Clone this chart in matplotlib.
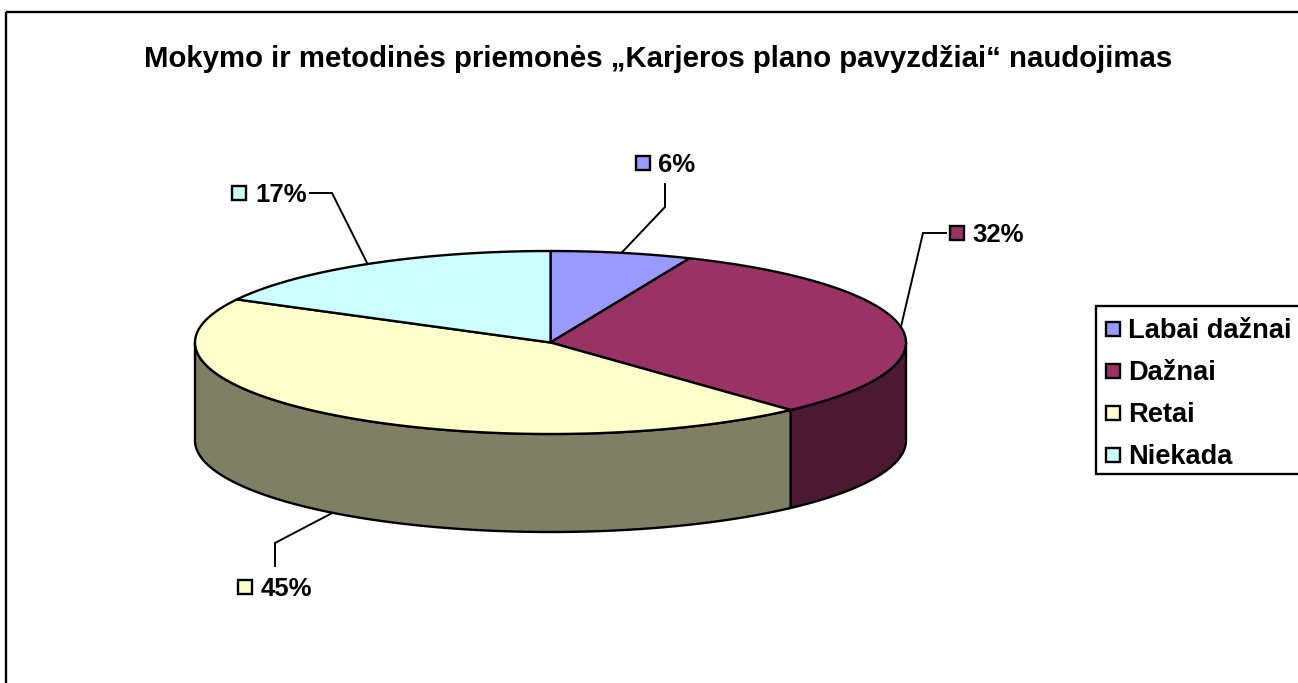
import numpy as np
import matplotlib
matplotlib.use("Agg")
import matplotlib.pyplot as plt
from matplotlib.patches import Rectangle

categories = ["Labai dažnai", "Dažnai", "Retai", "Niekada"]
values = [6.4, 31.8, 44.6, 17.2]
colors = ["#9999FF", "#993366", "#FFFFCC", "#CCFFFF"]
side_colors = ["#4C4C7F", "#4C1933", "#7F7F66", "#667F7F"]
title = "Mokymo ir metodinės priemonės „Karjeros plano pavyzdžiai“ naudojimas"

plt.rcParams["font.family"] = ["Liberation Sans", "DejaVu Sans"]
plt.rcParams["font.weight"] = "bold"

W, H = 1298, 683
fig = plt.figure(figsize=(W / 100, H / 100), dpi=100)
ax = fig.add_axes([0, 0, 1, 1])
ax.set_xlim(0, W)
ax.set_ylim(H, 0)
ax.axis("off")

CX, CY, RX, RY, DEPTH = 550.5, 342.5, 355.5, 91.5, 98
LW = 1.7


def pt(theta, drop=0.0):
    return CX + RX * np.sin(theta), CY - RY * np.cos(theta) + drop


frac = np.cumsum([0] + values) / sum(values)
angles = frac * 2 * np.pi

# front wall
for a0, a1, c in zip(angles[:-1], angles[1:], side_colors):
    lo, hi = max(a0, np.pi / 2), min(a1, 3 * np.pi / 2)
    if hi <= lo:
        continue
    th = np.linspace(lo, hi, 120)
    xt, yt = pt(th)
    xb, yb = pt(th[::-1], DEPTH)
    ax.fill(np.r_[xt, xb], np.r_[yt, yb], fc=c, ec="black", lw=LW,
            joinstyle="round", zorder=2)

# top face
for a0, a1, c in zip(angles[:-1], angles[1:], colors):
    th = np.linspace(a0, a1, 200)
    xt, yt = pt(th)
    ax.fill(np.r_[CX, xt], np.r_[CY, yt], fc=c, ec="black", lw=LW,
            joinstyle="round", zorder=3)

# data labels with leader lines
label_layout = [
    dict(box=(636, 156), text_x=658, elbow=(665, 207), end=(665, 184)),
    dict(box=(950, 226), text_x=972, elbow=(923, 233), end=(946, 233)),
    dict(box=(238, 580), text_x=261, elbow=(275, 543), end=(275, 566)),
    dict(box=(232, 186), text_x=255, elbow=(332, 193), end=(310, 193)),
]
SW = 14
for i, (v, c, lay) in enumerate(zip(values, colors, label_layout)):
    mid = (angles[i] + angles[i + 1]) / 2
    on_wall = np.pi / 2 < mid < 3 * np.pi / 2 and i == 2
    ax_, ay_ = pt(mid, DEPTH if on_wall else 0)
    ax.plot([ax_, lay["elbow"][0], lay["end"][0]], [ay_, lay["elbow"][1], lay["end"][1]],
            color="black", lw=1.4, zorder=4, solid_joinstyle="miter")
    bx, by = lay["box"]
    ax.add_patch(Rectangle((bx, by), SW, SW, fc=c, ec="black", lw=LW, zorder=5))
    ax.text(lay["text_x"], by + SW + 2.5, f"{v:.0f}%", fontsize=18.5, fontweight="bold",
            va="baseline", ha="left", color="black", zorder=5)

# chart frame (bleeds off right and bottom edges)
ax.add_patch(Rectangle((6, 12), W + 20, H + 20, fc="none", ec="black", lw=1.7, zorder=1))

ax.text(658.5, 67, title, fontsize=21.2, fontweight="bold", ha="center", va="baseline", color="black")

# legend
ax.add_patch(Rectangle((1096, 306), 220, 168, fc="white", ec="black", lw=1.7, zorder=5))
for i, (name, c) in enumerate(zip(categories, colors)):
    y = 322 + 42 * i
    ax.add_patch(Rectangle((1106, y), SW, SW, fc=c, ec="black", lw=LW, zorder=6))
    ax.text(1128.5, y + SW + 2, name, fontsize=19.6, fontweight="bold", va="baseline", ha="left",
            color="black", zorder=6)

fig.savefig("out.png", dpi=100, facecolor="white")
